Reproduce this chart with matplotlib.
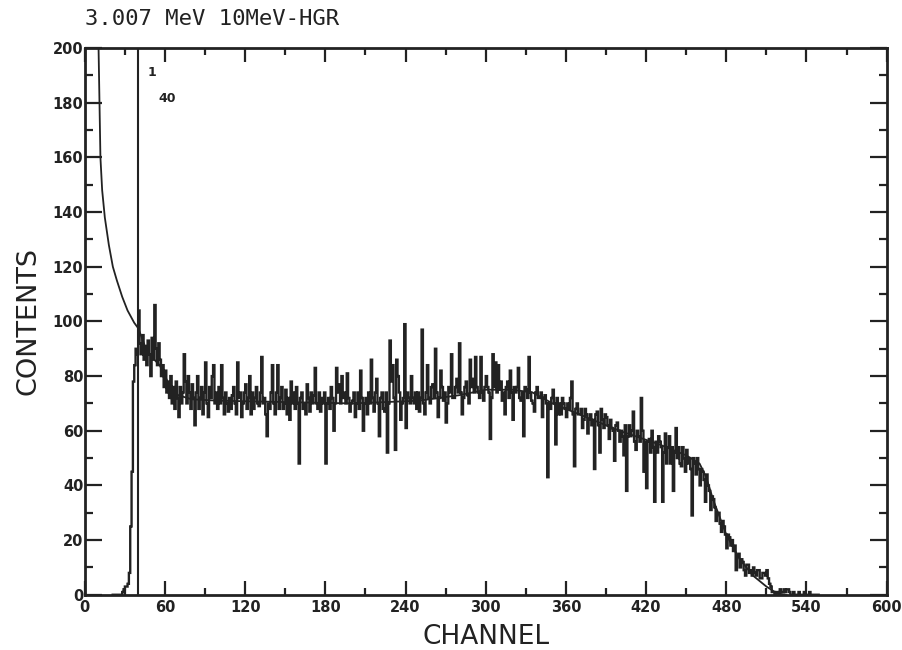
import matplotlib.pyplot as plt
import numpy as np

# spectrum, one value per channel starting at channel 20
first_ch = 20
counts = [
    0, 0, 0, 0, 0, 0, 0, 0, 1, 2, 3, 3, 4, 8, 25, 45, 78, 84, 90, 88,
    104, 92, 88, 95, 86, 91, 84, 93, 88, 80, 94, 86, 106, 90, 84, 92, 86, 80, 84, 76,
    82, 74, 78, 72, 80, 70, 76, 68, 78, 72, 65, 76, 70, 74, 88, 78, 70, 80, 74, 68,
    77, 72, 62, 74, 80, 68, 72, 76, 66, 74, 85, 70, 65, 76, 72, 80, 84, 70, 74, 68,
    76, 70, 84, 72, 66, 74, 70, 67, 72, 68, 73, 76, 70, 66, 85, 72, 74, 65, 70, 74,
    77, 68, 72, 80, 66, 74, 68, 72, 76, 70, 69, 74, 87, 70, 72, 66, 58, 70, 68, 74,
    84, 70, 66, 74, 84, 68, 72, 76, 68, 70, 75, 66, 72, 64, 78, 70, 74, 68, 76, 70,
    48, 72, 74, 68, 70, 66, 77, 72, 67, 74, 70, 73, 83, 70, 68, 74, 67, 72, 70, 74,
    48, 70, 72, 68, 76, 72, 60, 70, 83, 74, 77, 70, 80, 72, 74, 70, 81, 72, 67, 70,
    71, 74, 65, 70, 74, 68, 82, 72, 60, 70, 72, 66, 74, 70, 86, 72, 67, 74, 79, 70,
    58, 72, 74, 68, 67, 74, 52, 70, 93, 78, 84, 72, 53, 86, 80, 74, 64, 70, 72, 99,
    61, 74, 72, 70, 80, 72, 70, 74, 68, 74, 67, 72, 97, 70, 66, 74, 84, 72, 70, 76,
    77, 72, 90, 74, 65, 72, 82, 76, 71, 74, 63, 70, 76, 74, 88, 72, 72, 76, 79, 74,
    92, 74, 66, 72, 76, 78, 73, 70, 86, 76, 79, 74, 87, 76, 74, 72, 87, 74, 71, 76,
    80, 76, 74, 57, 72, 88, 76, 85, 74, 84, 75, 78, 71, 74, 66, 76, 78, 72, 82, 74,
    64, 76, 74, 76, 83, 72, 71, 74, 58, 76, 75, 72, 87, 74, 71, 70, 67, 74, 76, 72,
    72, 74, 65, 72, 73, 70, 43, 70, 68, 72, 75, 70, 55, 72, 66, 70, 66, 72, 70, 68,
    65, 70, 68, 72, 78, 66, 47, 68, 70, 66, 66, 68, 61, 64, 68, 66, 59, 64, 66, 62,
    64, 46, 66, 67, 62, 52, 68, 64, 61, 66, 65, 62, 57, 64, 61, 60, 49, 62, 63, 60,
    56, 60, 58, 51, 62, 38, 58, 62, 58, 60, 67, 56, 53, 60, 58, 56, 72, 60, 45, 56,
    39, 56, 57, 52, 60, 54, 34, 56, 52, 58, 56, 54, 34, 52, 59, 48, 54, 58, 48, 54,
    38, 52, 61, 50, 54, 48, 47, 54, 50, 45, 53, 48, 50, 46, 29, 50, 48, 44, 50, 46,
    40, 46, 45, 42, 34, 44, 40, 38, 31, 36, 35, 32, 27, 30, 30, 26, 23, 27, 25, 22,
    17, 22, 21, 18, 20, 16, 18, 9, 14, 15, 10, 13, 12, 9, 7, 11, 11, 8, 9, 7,
    10, 8, 7, 9, 9, 6, 6, 8, 8, 7, 9, 6, 4, 3, 1, 1, 0, 1, 1, 0,
    2, 1, 1, 2, 1, 2, 2, 1, 0, 0, 1, 0, 0, 0, 1, 0, 0, 0, 1, 0,
    0, 0, 1, 0, 0, 0, 0, 0, 0, 0,
]

# fitted curve
fit_ch = [10.3, 11.0, 11.7, 13, 15, 18, 21, 24, 28, 32, 37, 40, 45, 50, 56, 60, 64, 70,
          80, 100, 150, 200, 250, 280, 300, 320, 335, 350, 375, 400, 430, 450, 460,
          465, 470, 480, 490, 500, 510, 518, 525]
fit_val = [200, 180, 160, 148, 138, 128, 120, 115, 109, 104, 99.5, 97.5, 91, 87, 84, 80, 76, 73,
           71.5, 71, 70.5, 70, 71, 73, 75, 75, 74, 70, 65, 60, 55, 51, 48,
           43, 35, 22, 13, 7, 3, 0.5, 0]

marker_ch = 40

counts = np.array(counts, dtype=float)
edges = first_ch + np.arange(len(counts) + 1)

ink = '#222222'
fig = plt.figure(figsize=(9.02, 6.5), dpi=100)
ax = fig.add_axes([0.094, 0.085, 0.889, 0.841])

ax.stairs(counts, edges, baseline=0, color=ink, lw=1.7)
ax.plot(fit_ch, fit_val, color=ink, lw=1.3)
ax.axvline(marker_ch, color=ink, lw=1.5)
ax.text(50, 191, '1', fontsize=9, fontweight='bold', color=ink, ha='center', va='center')
ax.text(62, 181.5, '40', fontsize=9, fontweight='bold', color=ink, ha='center', va='center')

ax.set_xlim(0, 600)
ax.set_ylim(0, 200)
ax.set_xticks(np.arange(0, 601, 60))
ax.set_xticks(np.arange(30, 600, 60), minor=True)
ax.set_yticks(np.arange(0, 201, 20))
ax.set_yticks(np.arange(10, 200, 20), minor=True)
ax.tick_params(which='both', direction='in', top=True, right=True, color=ink,
               labelsize=10.5, labelcolor=ink, width=1.6)
ax.tick_params(axis='x', which='major', length=10, pad=4)
ax.tick_params(axis='x', which='minor', length=5)
ax.tick_params(axis='y', which='major', length=12, pad=1)
ax.tick_params(axis='y', which='minor', length=6)
for lab in ax.get_xticklabels() + ax.get_yticklabels():
    lab.set_fontweight('bold')
for s in ax.spines.values():
    s.set_linewidth(2)
    s.set_color(ink)

ax.set_xlabel('CHANNEL', fontsize=19, color=ink, labelpad=6)
ax.set_ylabel('CONTENTS', fontsize=19.5, color=ink, labelpad=8)
fig.text(0.094, 0.955, '3.007 MeV 10MeV-HGR', family='DejaVu Sans Mono', fontsize=16,
         color=ink, ha='left', va='bottom')

fig.savefig('out.png', dpi=100)
